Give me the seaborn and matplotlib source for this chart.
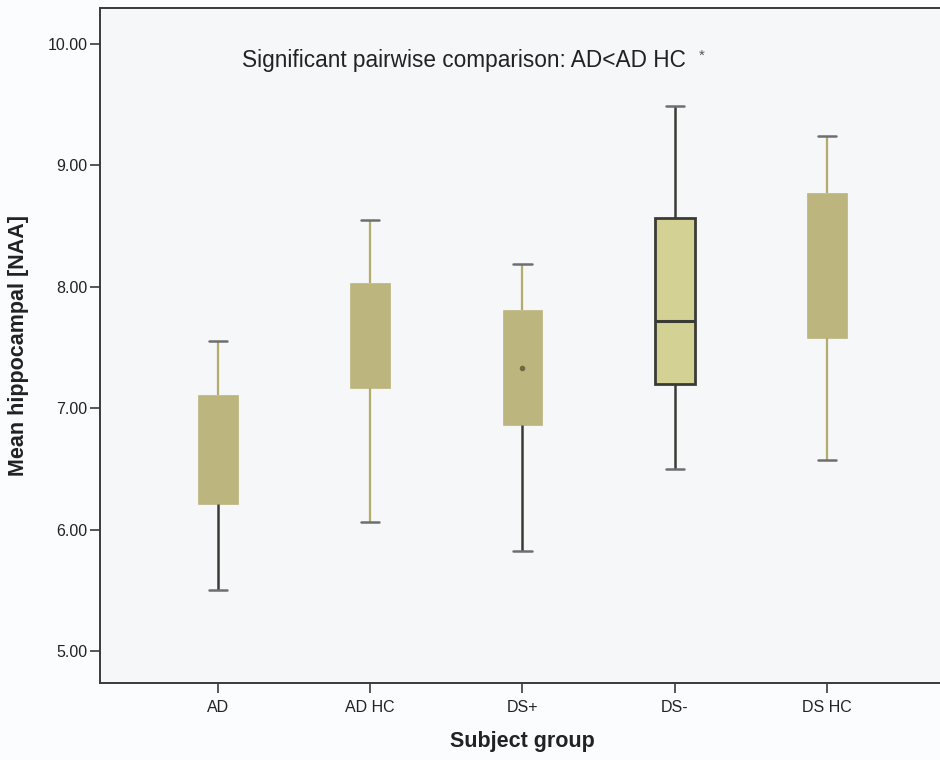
import numpy as np
import pandas as pd
import matplotlib
matplotlib.use("Agg")
import matplotlib.pyplot as plt
import seaborn as sns

# Five-number summaries per subject group: min, Q1, median, Q3, max
groups = ["AD", "AD HC", "DS+", "DS-", "DS HC"]
mins    = [5.50, 6.06, 5.82, 6.50, 6.57]
q1s     = [6.21, 7.17, 6.86, 7.20, 7.58]
medians = [6.60, 7.60, 7.33, 7.72, 8.20]
q3s     = [7.11, 8.03, 7.81, 8.57, 8.77]
maxs    = [7.55, 8.55, 8.19, 9.49, 9.24]
yticks = [5.0, 6.0, 7.0, 8.0, 9.0, 10.0]

rows = []
for g, a, b, c, d, e in zip(groups, mins, q1s, medians, q3s, maxs):
    for v in (a, b, c, d, e):
        rows.append({"Subject group": g, "Mean hippocampal [NAA]": v})
df = pd.DataFrame(rows)

sns.set_theme(style="white")
plt.rcParams["font.family"] = ["Liberation Sans", "DejaVu Sans"]

fig = plt.figure(figsize=(9.4, 7.6), dpi=100, facecolor="#fbfcfd")
ax = fig.add_axes([100 / 940, 1 - 683 / 760, 845 / 940, (683 - 8) / 760])
ax.set_facecolor("#f6f7f9")

tan = "#bcb67e"
tan_light = "#d3d193"
dark = "#3b3b36"
whisk_tan = "#b3ab6c"

sns.boxplot(data=df, x="Subject group", y="Mean hippocampal [NAA]",
            order=groups, whis=(0, 100), width=0.26, color=tan,
            linewidth=1.6, saturation=1, showfliers=False, ax=ax)

boxes, whiskers, caps, meds = [], [], [], []
for cont in ax.containers:
    if hasattr(cont, "boxes"):
        boxes += list(cont.boxes)
        whiskers += list(cont.whiskers)
        caps += list(cont.caps)
        meds += list(cont.medians)

# Box styling: outlined DS- box, plain filled boxes elsewhere
for i, b in enumerate(boxes):
    if groups[i] == "DS-":
        b.set_facecolor(tan_light)
        b.set_edgecolor(dark)
        b.set_linewidth(2.0)
    else:
        b.set_facecolor(tan)
        b.set_edgecolor(tan)
        b.set_linewidth(0.5)

for i, m in enumerate(meds):
    if groups[i] == "DS-":
        m.set_color(dark)
        m.set_linewidth(2.2)
    else:
        m.set_color(tan)
        m.set_linewidth(0.5)

# DS+ median shows only as a small dot
i_dsp = groups.index("DS+")
ax.plot([i_dsp], [medians[i_dsp]], marker="o", ms=3, color="#6f6a45",
        linestyle="none", zorder=5)

# whiskers come in (lower, upper) pairs per box
lower_dark = {"AD", "DS+", "DS-"}
upper_dark = {"DS-"}
for i, w in enumerate(whiskers):
    g = groups[i // 2]
    is_lower = (i % 2 == 0)
    if (is_lower and g in lower_dark) or ((not is_lower) and g in upper_dark):
        w.set_color(dark)
        w.set_linewidth(1.8)
    else:
        w.set_color(whisk_tan)
        w.set_linewidth(1.6)

for c in caps:
    c.set_color("#6e6e6e")
    c.set_linewidth(1.8)
    xd = c.get_xdata()
    mid = (xd[0] + xd[1]) / 2
    c.set_xdata([mid - 0.06, mid + 0.06])

ax.set_xlim(-0.775, 4.775)
ax.set_ylim(4.736, 10.297)
ax.set_yticks(yticks)
ax.set_yticklabels([f"{t:.2f}" for t in yticks])

for s in ["left", "bottom", "top", "right"]:
    ax.spines[s].set_visible(True)
    ax.spines[s].set_color("#3a3a3a")
    ax.spines[s].set_linewidth(1.4)

ax.tick_params(axis="both", which="both", direction="out", length=7,
               width=1.2, color="#3a3a3a", labelsize=11.5, labelcolor="#222222",
               left=True, bottom=True)
ax.tick_params(axis="y", pad=2)
ax.tick_params(axis="x", pad=5)

ax.set_xlabel("Subject group", fontsize=15.5, fontweight="bold",
              color="#222222", labelpad=12)
ax.set_ylabel("Mean hippocampal [NAA]", fontsize=15.5, fontweight="bold",
              color="#222222", labelpad=13)

fig.text(242 / 940, 1 - 60 / 760, "Significant pairwise comparison: AD<AD HC",
         fontsize=16.3, color="#222222", ha="left", va="center")
fig.text(699 / 940, 1 - 56 / 760, "*", fontsize=11, color="#555555",
         ha="left", va="center")

fig.savefig("out.png", dpi=100, facecolor=fig.get_facecolor())
